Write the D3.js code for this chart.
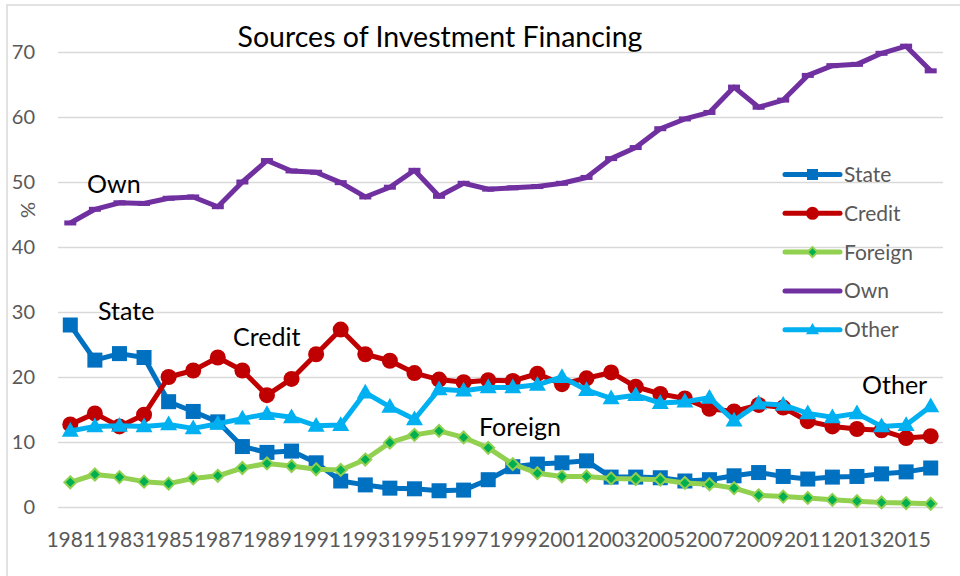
<!DOCTYPE html>
<html>
<head>
<meta charset="utf-8">
<script src="https://cdn.jsdelivr.net/npm/d3@7"></script>
<style>
    body { margin: 0; background: #fff; }
    text { font-family: Lato, "Open Sans", sans-serif; }
</style>
</head>
<body>
<svg id="chart" width="960" height="576"></svg>
<script>
/*************************************************************************/

var years = [1981, 1982, 1983, 1984, 1985, 1986, 1987, 1988, 1989, 1990,
             1991, 1992, 1993, 1994, 1995, 1996, 1997, 1998, 1999, 2000,
             2001, 2002, 2003, 2004, 2005, 2006, 2007, 2008, 2009, 2010,
             2011, 2012, 2013, 2014, 2015, 2016];

var yearLabels = [1981, 1983, 1985, 1987, 1989, 1991, 1993, 1995, 1997,
                  1999, 2001, 2003, 2005, 2007, 2009, 2011, 2013, 2015];

var yTicks = [0, 10, 20, 30, 40, 50, 60, 70];

var state = [28.0, 22.6, 23.6, 23.0, 16.2, 14.7, 13.1, 9.3, 8.4, 8.6,
             6.8, 4.0, 3.4, 2.9, 2.8, 2.5, 2.6, 4.2, 6.2, 6.6,
             6.8, 7.1, 4.6, 4.6, 4.5, 4.0, 4.2, 4.8, 5.3, 4.7,
             4.3, 4.6, 4.7, 5.1, 5.4, 6.0];

var credit = [12.7, 14.4, 12.4, 14.2, 20.0, 21.0, 23.0, 21.0, 17.2, 19.7,
              23.5, 27.3, 23.5, 22.5, 20.6, 19.6, 19.2, 19.5, 19.4, 20.5,
              18.9, 19.8, 20.7, 18.5, 17.4, 16.7, 15.1, 14.7, 15.7, 15.3,
              13.2, 12.4, 12.0, 11.8, 10.6, 10.9];

var foreign = [3.8, 5.0, 4.6, 3.9, 3.6, 4.4, 4.8, 6.0, 6.7, 6.3,
               5.8, 5.7, 7.3, 9.9, 11.1, 11.7, 10.7, 9.1, 6.6, 5.2,
               4.7, 4.7, 4.4, 4.3, 4.2, 3.7, 3.5, 2.9, 1.8, 1.6,
               1.4, 1.1, 0.9, 0.7, 0.6, 0.5];

var own = [43.7, 45.8, 46.8, 46.7, 47.5, 47.7, 46.2, 50.0, 53.3, 51.7,
           51.5, 49.9, 47.7, 49.2, 51.8, 47.8, 49.8, 48.9, 49.1, 49.3,
           49.8, 50.7, 53.6, 55.3, 58.2, 59.7, 60.7, 64.6, 61.5, 62.6,
           66.4, 67.9, 68.1, 69.8, 70.9, 67.1];

var other = [11.7, 12.4, 12.5, 12.4, 12.7, 12.1, 12.8, 13.6, 14.3, 13.8,
             12.5, 12.6, 17.6, 15.4, 13.5, 18.1, 17.9, 18.4, 18.4, 18.8,
             20.0, 18.0, 16.7, 17.2, 16.0, 16.2, 16.8, 13.3, 15.9, 15.7,
             14.4, 13.8, 14.4, 12.4, 12.6, 15.5];

// series in Excel draw order (later ones on top)
var series = [
    { name: 'State',   values: state,   line: '#0070C0', fill: '#0070C0', marker: 'square' },
    { name: 'Credit',  values: credit,  line: '#C00000', fill: '#C00000', marker: 'circle' },
    { name: 'Foreign', values: foreign, line: '#92D050', fill: '#00B050', marker: 'diamond' },
    { name: 'Own',     values: own,     line: '#7030A0', fill: '#7030A0', marker: 'dash' },
    { name: 'Other',   values: other,   line: '#00B0F0', fill: '#00B0F0', marker: 'triangle' }
];

// in-plot labels
var callouts = [
    { text: 'Own',     x: 87,  y: 193 },
    { text: 'State',   x: 98,  y: 320 },
    { text: 'Credit',  x: 233, y: 346 },
    { text: 'Foreign', x: 479, y: 436 },
    { text: 'Other',   x: 862, y: 394 }
];

/*************************************************************************/

var svg = d3.select('#chart');

var x = d3.scalePoint().domain(years).range([58, 943]).padding(0.5);
var y = d3.scaleLinear().domain([0, 70]).range([507, 52]);

// chart frame
svg.append('path')
    .attr('d', 'M7,580 L7,5 L965,5')
    .attr('fill', 'none')
    .attr('stroke', '#d9d9d9')
    .attr('stroke-width', 1.5);

svg.append('text')
    .attr('x', 440).attr('y', 47)
    .attr('text-anchor', 'middle')
    .attr('font-size', 28.5)
    .attr('fill', '#000')
    .text('Sources of Investment Financing');

/*************************************************************************/

var yAxis = svg.append('g')
    .attr('transform', 'translate(58,0)')
    .call(d3.axisLeft(y).tickValues(yTicks).tickSize(-885).tickPadding(23));

yAxis.select('.domain').remove();
yAxis.selectAll('line').attr('stroke', '#d9d9d9').attr('stroke-width', 1.5);
yAxis.selectAll('text')
    .attr('font-size', 20)
    .attr('fill', '#595959')
    .attr('font-family', 'Lato, sans-serif');

var xAxis = svg.append('g')
    .attr('transform', 'translate(0,507)')
    .call(d3.axisBottom(x).tickValues(yearLabels).tickSize(0).tickPadding(0));

xAxis.select('.domain').remove();
xAxis.selectAll('text')
    .attr('y', 39.5)
    .attr('dy', 0)
    .attr('font-size', 21)
    .attr('fill', '#595959')
    .attr('font-family', 'Lato, sans-serif');

svg.append('text')
    .attr('transform', 'translate(35,210) rotate(-90)')
    .attr('text-anchor', 'middle')
    .attr('font-size', 20)
    .attr('fill', '#595959')
    .text('%');

/*************************************************************************/

function drawMarker(g, kind, fill, stroke, s){
    if(kind == 'square'){
        g.append('rect').attr('x', -s/2).attr('y', -s/2).attr('width', s).attr('height', s)
            .attr('fill', fill);
    } else if(kind == 'circle'){
        g.append('circle').attr('r', s/2).attr('fill', fill);
    } else if(kind == 'diamond'){
        g.append('path').attr('d', `M0,${-s/2} L${s/2},0 L0,${s/2} L${-s/2},0 Z`)
            .attr('fill', fill).attr('stroke', stroke).attr('stroke-width', 2);
    } else if(kind == 'triangle'){
        var h = s*0.87;
        g.append('path').attr('d', `M0,${-h*0.6} L${s/2},${h*0.4} L${-s/2},${h*0.4} Z`)
            .attr('fill', fill);
    } else if(kind == 'dash'){
        g.append('rect').attr('x', -6).attr('y', -2.5).attr('width', 12).attr('height', 5)
            .attr('fill', fill);
    }
}

var markerSize = { square: 15, circle: 16, diamond: 12, triangle: 17, dash: 12 };

var line = d3.line()
    .x((d, i) => x(years[i]))
    .y(d => y(d));

series.forEach(function(s){
    var g = svg.append('g').attr('class', 'series');

    g.append('path')
        .attr('d', line(s.values))
        .attr('fill', 'none')
        .attr('stroke', s.line)
        .attr('stroke-width', 5)
        .attr('stroke-linejoin', 'round');

    g.selectAll('g.pt')
        .data(s.values)
        .enter().append('g')
        .attr('class', 'pt')
        .attr('transform', (d, i) => `translate(${x(years[i])},${y(d)})`)
        .each(function(){ drawMarker(d3.select(this), s.marker, s.fill, s.line, markerSize[s.marker]); });
});

/*************************************************************************/

var legend = svg.append('g').attr('transform', 'translate(785,174.5)');

series.forEach(function(s, i){
    var row = legend.append('g').attr('transform', `translate(0,${i*38.8})`);
    row.append('line')
        .attr('x1', 0).attr('x2', 55)
        .attr('stroke', s.line).attr('stroke-width', 5).attr('stroke-linecap', 'round');
    if(s.marker != 'dash'){
        var m = row.append('g').attr('transform', 'translate(27.5,0)');
        drawMarker(m, s.marker, s.fill, s.line, { square: 11, circle: 13, diamond: 10, triangle: 13 }[s.marker]);
    }
    row.append('text')
        .attr('x', 59).attr('y', 7.5)
        .attr('font-size', 21)
        .attr('fill', '#595959')
        .text(s.name);
});

svg.selectAll('text.callout')
    .data(callouts)
    .enter().append('text')
    .attr('class', 'callout')
    .attr('x', d => d.x).attr('y', d => d.y)
    .attr('font-size', 25)
    .attr('fill', '#000')
    .text(d => d.text);

/*************************************************************************/
</script>
</body>
</html>
